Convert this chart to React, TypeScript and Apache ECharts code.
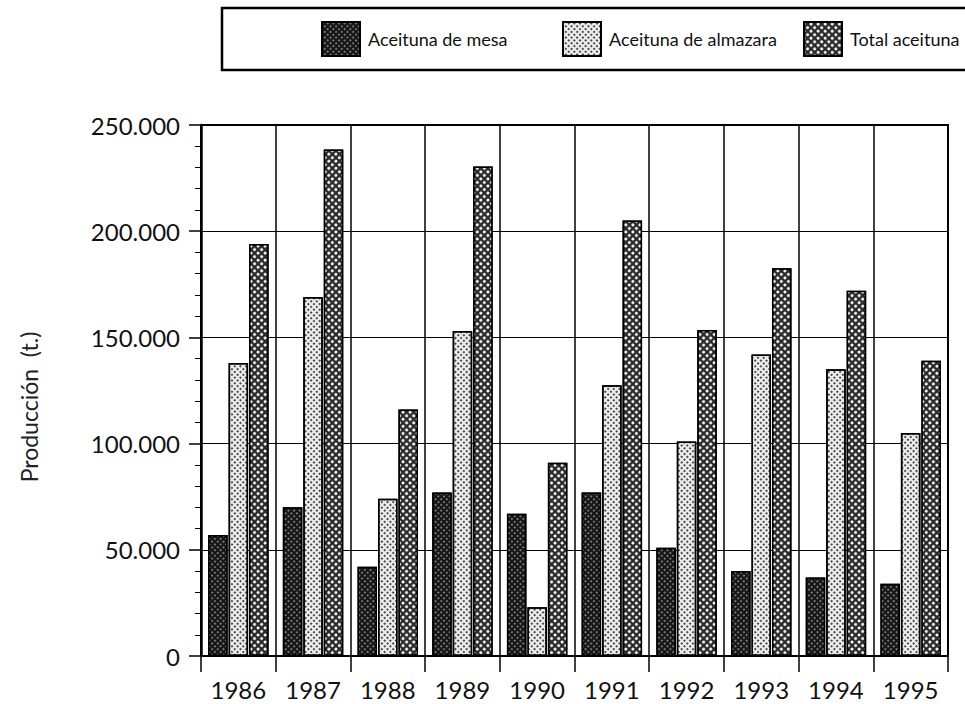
import React, { useEffect, useRef } from "react";
import * as echarts from "echarts";

const years = ["1986", "1987", "1988", "1989", "1990", "1991", "1992", "1993", "1994", "1995"];
const mesa = [57000, 70000, 42000, 77000, 67000, 77000, 51000, 40000, 37000, 34000];
const almazara = [138000, 169000, 74000, 153000, 23000, 127500, 101000, 142000, 135000, 105000];
const total = [194000, 238500, 116000, 230500, 91000, 205000, 153500, 182500, 172000, 139000];
const seriesNames = ["Aceituna de mesa", "Aceituna de almazara", "Total aceituna"];
const yTitle = "Producción  (t.)";

const fmt = (v: number) => String(v).replace(/\B(?=(\d{3})+(?!\d))/g, ".");

export default function App() {
  const ref = useRef<HTMLDivElement>(null);
  useEffect(() => {
    if (!ref.current) return;
    const chart = echarts.init(ref.current, null, { renderer: "svg" });
    const font = "Lato";
    const legendBase = {
      top: 21,
      itemWidth: 38,
      itemHeight: 34,
      padding: 0,
      itemGap: 0,
      selectedMode: false,
      icon: "rect",
      textStyle: { fontFamily: font, fontSize: 18, color: "#111", padding: [0, 0, 0, 3] },
    };
    const decalMesa = {
      symbol: "circle",
      symbolSize: 0.7,
      color: "#fff",
      dashArrayX: [2, 2],
      dashArrayY: [2, 2],
      rotation: Math.PI / 4,
    };
    const decalAlm = {
      symbol: "circle",
      symbolSize: 0.9,
      color: "#111",
      dashArrayX: [2, 2],
      dashArrayY: [2, 2],
      rotation: Math.PI / 4,
    };
    const decalTotal = {
      symbol: "circle",
      symbolSize: 1,
      color: "#fff",
      dashArrayX: [3, 2],
      dashArrayY: [3, 2],
      rotation: Math.PI / 4,
    };
    chart.setOption({
      animation: false,
      backgroundColor: "#fff",
      legend: [
        { ...legendBase, left: 321, data: [seriesNames[0]] },
        { ...legendBase, left: 562, data: [seriesNames[1]] },
        { ...legendBase, left: 803, data: [seriesNames[2]] },
      ],
      graphic: [
        {
          type: "rect",
          shape: { x: 222, y: 8, width: 780, height: 62 },
          style: { fill: "none", stroke: "#000", lineWidth: 2.5 },
          silent: true,
        },
        {
          type: "text",
          x: 29,
          y: 407,
          rotation: Math.PI / 2,
          style: {
            text: yTitle,
            fontFamily: font,
            fontSize: 23,
            fill: "#222",
            align: "center",
            verticalAlign: "middle",
          },
        },
      ],
      grid: {
        left: 201,
        right: 17,
        top: 125,
        bottom: 48,
        show: true,
        borderColor: "#000",
        borderWidth: 2,
      },
      xAxis: {
        type: "category",
        data: years,
        axisLine: { lineStyle: { color: "#000", width: 2 } },
        axisTick: { show: true, length: 16, lineStyle: { color: "#000", width: 1.5 } },
        splitLine: { show: true, lineStyle: { color: "#000", width: 1.5 } },
        axisLabel: { margin: 21, fontSize: 24, fontFamily: font, color: "#111" },
      },
      yAxis: {
        type: "value",
        min: 0,
        max: 250000,
        interval: 50000,
        axisLine: { show: true, lineStyle: { color: "#000", width: 2.5 } },
        axisTick: { show: true, length: 12, lineStyle: { color: "#000", width: 1.5 } },
        minorTick: { show: true, splitNumber: 5, length: 6, lineStyle: { color: "#000", width: 1 } },
        splitLine: { show: true, lineStyle: { color: "#000", width: 1 } },
        axisLabel: { margin: 21, fontSize: 24, fontFamily: font, color: "#111", formatter: fmt },
      },
      series: [
        {
          name: seriesNames[0],
          type: "bar",
          data: mesa,
          barWidth: 19.5,
          barGap: "5%",
          itemStyle: { color: "#151515", borderColor: "#000", borderWidth: 1.5, decal: decalMesa },
        },
        {
          name: seriesNames[1],
          type: "bar",
          data: almazara,
          barWidth: 19.5,
          barGap: "5%",
          itemStyle: { color: "#eeeeee", borderColor: "#000", borderWidth: 1.5, decal: decalAlm },
        },
        {
          name: seriesNames[2],
          type: "bar",
          data: total,
          barWidth: 19.5,
          barGap: "5%",
          itemStyle: { color: "#2a2a2a", borderColor: "#000", borderWidth: 1.5, decal: decalTotal },
        },
      ],
    });
    return () => chart.dispose();
  }, []);
  return (
    <div
      ref={ref}
      style={{ position: "fixed", left: 0, top: 0, width: 965, height: 704 }}
    />
  );
}
